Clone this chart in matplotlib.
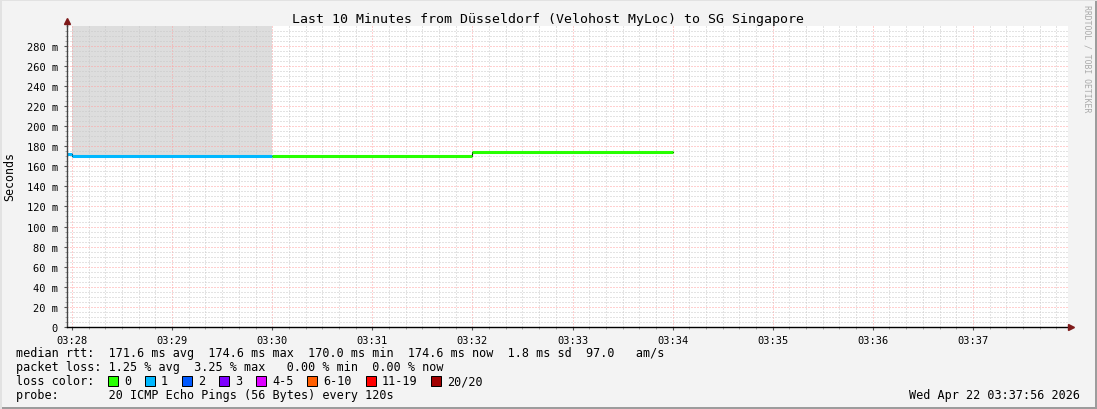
import datetime as dt

import numpy as np
import matplotlib
matplotlib.use("Agg")
import matplotlib.pyplot as plt
import matplotlib.dates as mdates
from matplotlib.lines import Line2D
from matplotlib.patches import Rectangle
from matplotlib.ticker import MultipleLocator, FuncFormatter

W, H = 1097, 410
BACK = "#f3f3f3"
MONO = "DejaVu Sans Mono"

# ---- chart content ----
title = "Last 10 Minutes from Düsseldorf (Velohost MyLoc) to SG Singapore"
day = "2026-04-22"
window_start = "03:27:57"
window_end = "03:37:57"

# one rrd step every 120 s
step_start = ["03:26", "03:28", "03:30", "03:32"]
median_ms = [172.1, 170.0, 170.2, 174.6]
lost_pings = [1, 1, 0, 0]
smoke_top_ms = [np.nan, 300.0, np.nan, np.nan]   # ping spread, clipped at top

loss_labels = ["0", "1", "2", "3", "4-5", "6-10", "11-19", "20/20"]
loss_upper = [0, 1, 2, 3, 5, 10, 19, 20]
loss_colors = ["#26ff00", "#00b8ff", "#0059ff", "#7e00ff",
               "#dd00ff", "#ff5e00", "#ff0000", "#a10000"]

median_line = ("median rtt:  171.6 ms avg  174.6 ms max  170.0 ms min  "
               "174.6 ms now  1.8 ms sd  97.0   am/s")
loss_line = "packet loss: 1.25 % avg  3.25 % max   0.00 % min  0.00 % now"
probe_line = "probe:       20 ICMP Echo Pings (56 Bytes) every 120s"
stamp = "Wed Apr 22 03:37:56 2026"
watermark = "RRDTOOL / TOBI OETIKER"


def when(hms):
    fmt = "%Y-%m-%d %H:%M:%S" if hms.count(":") == 2 else "%Y-%m-%d %H:%M"
    return dt.datetime.strptime(day + " " + hms, fmt)


def fx(x):
    return x / W


def fy(y):
    return 1 - y / H


def loss_color(n):
    for up, c in zip(loss_upper, loss_colors):
        if n <= up:
            return c
    return loss_colors[-1]


fig = plt.figure(figsize=(W / 100, H / 100), dpi=100, facecolor=BACK)
ax = fig.add_axes([fx(67), fy(328), 1001 / W, 301 / H])
ax.set_facecolor("white")

starts = [when(s) for s in step_start]
ends = [s + dt.timedelta(seconds=120) for s in starts]

# smoke
for t0, t1, med, top in zip(starts, ends, median_ms, smoke_top_ms):
    if not np.isnan(top):
        ax.fill_between([t0, t1], [med, med], [top, top],
                        color="#dddddd", lw=0, zorder=1)

# thin black step under the coloured median
ax.step(starts + [ends[-1]], median_ms + [median_ms[-1]], where="post",
        color="black", lw=0.8, zorder=1.8)
for t0, t1, med, n in zip(starts, ends, median_ms, lost_pings):
    ax.plot([t0, t1], [med, med], color=loss_color(n), lw=2.2,
            solid_capstyle="butt", zorder=2)

ax.set_xlim(when(window_start), when(window_end))
ax.set_ylim(0, 299.6)

ax.xaxis.set_major_locator(mdates.MinuteLocator())
ax.xaxis.set_minor_locator(mdates.SecondLocator(bysecond=range(0, 60, 10)))
ax.xaxis.set_major_formatter(mdates.DateFormatter("%H:%M"))
ax.yaxis.set_major_locator(MultipleLocator(20))
ax.yaxis.set_minor_locator(MultipleLocator(5))
ax.yaxis.set_major_formatter(
    FuncFormatter(lambda v, p: "0" if v == 0 else "%d m" % v))

ax.set_axisbelow("line")
ax.grid(which="minor", color="#c8c8c8", lw=0.72, ls=(0, (1, 2)))
ax.grid(which="major", color="#ffa0a0", lw=0.72, ls=(0, (1, 2)))

for lab in ax.get_xticklabels() + ax.get_yticklabels():
    lab.set_fontfamily(MONO)
    lab.set_fontsize(7.5)
ax.tick_params(axis="x", which="major", length=2, pad=3.5, color="#555555")
ax.tick_params(axis="y", which="major", length=2, pad=4.5, color="#555555")
ax.tick_params(which="minor", length=1.5, color="#999999")

for side in ("top", "right"):
    ax.spines[side].set_visible(False)
ax.spines["bottom"].set_color("black")
ax.spines["bottom"].set_linewidth(1.0)
ax.spines["left"].set_color("#444444")
ax.spines["left"].set_linewidth(1.0)

# axis arrows
fig.add_artist(Line2D([fx(67), fx(67)], [fy(27), fy(22)], color="#444444",
                      lw=1.0, transform=fig.transFigure))
fig.add_artist(Line2D([fx(67)], [fy(22)], marker="^", color="#7f1a1a",
                      markersize=5, lw=0, transform=fig.transFigure))
fig.add_artist(Line2D([fx(1071)], [fy(328)], marker=">", color="#7f1a1a",
                      markersize=5, lw=0, transform=fig.transFigure))

# titles
fig.text(fx(548), fy(19), title, family=MONO, fontsize=9.55,
         ha="center", va="center")
fig.text(fx(10), fy(177), "Seconds", family=MONO, fontsize=8.4,
         rotation=90, ha="center", va="center")
fig.text(fx(1087), fy(59), watermark, family=MONO, fontsize=5.9,
         color="#aaaaaa", rotation=270, ha="center", va="center")

# legend rows
fs = 8.45
cw = 7.05
fig.text(fx(16), fy(354), median_line, family=MONO, fontsize=fs, va="center")
fig.text(fx(16), fy(368), loss_line, family=MONO, fontsize=fs, va="center")
fig.text(fx(16), fy(382), "loss color:", family=MONO, fontsize=fs,
         va="center")
fig.text(fx(16), fy(396), probe_line, family=MONO, fontsize=fs, va="center")
fig.text(fx(1080), fy(396), stamp, family=MONO, fontsize=fs,
         ha="right", va="center")

x = 108
for lab, col in zip(loss_labels, loss_colors):
    fig.add_artist(Rectangle((fx(x), fy(387)), 10 / W, 10 / H,
                             facecolor=col, edgecolor="black", lw=0.72,
                             transform=fig.transFigure))
    fig.text(fx(x + 16), fy(382), lab, family=MONO, fontsize=fs,
             va="center")
    x = x + 16 + len(lab) * cw + 14

# image border
fig.add_artist(Rectangle((0, 0), 1, 2 / H, facecolor="#9c9c9c", lw=0,
                         transform=fig.transFigure))
fig.add_artist(Rectangle((1 - 2 / W, 0), 2 / W, 1, facecolor="#9c9c9c",
                         lw=0, transform=fig.transFigure))
fig.add_artist(Rectangle((0, 0), 2 / W, 1, facecolor="#e2e2e2", lw=0,
                         transform=fig.transFigure))
fig.add_artist(Rectangle((0, 1 - 2 / H), 1, 2 / H, facecolor="#e2e2e2",
                         lw=0, transform=fig.transFigure))

fig.savefig("out.png", dpi=100, facecolor=BACK)
